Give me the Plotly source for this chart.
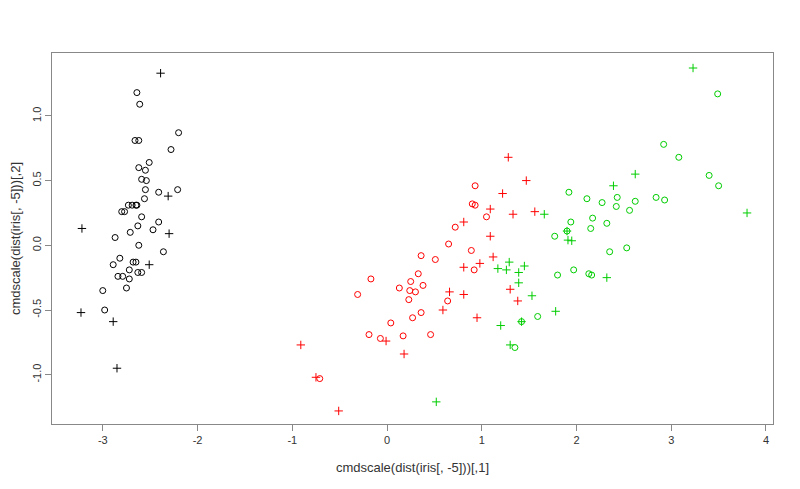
import plotly.graph_objects as go

# setosa (black): (x, y, symbol)
setosa = [(-2.39,1.33,"+"),(-2.64,1.18,"o"),(-2.61,1.09,"o"),(-2.20,0.87,"o"),(-2.66,0.81,"o"),(-2.62,0.81,"o"),
          (-2.28,0.74,"o"),(-2.51,0.64,"o"),(-2.62,0.60,"o"),(-2.55,0.58,"o"),(-2.59,0.51,"o"),(-2.54,0.50,"o"),
          (-2.55,0.43,"o"),(-2.41,0.41,"o"),(-2.31,0.38,"+"),(-2.21,0.43,"o"),(-2.56,0.36,"o"),
          (-2.73,0.31,"o"),(-2.69,0.31,"o"),(-2.65,0.31,"o"),(-2.64,0.31,"o"),(-2.80,0.26,"o"),(-2.77,0.26,"o"),
          (-2.59,0.22,"o"),(-3.22,0.13,"+"),(-2.41,0.18,"o"),(-2.63,0.15,"o"),(-2.47,0.12,"o"),(-2.30,0.09,"+"),
          (-2.71,0.10,"o"),(-2.87,0.06,"o"),(-2.62,0.00,"o"),(-2.36,-0.05,"o"),(-2.82,-0.10,"o"),(-2.89,-0.15,"o"),
          (-2.68,-0.13,"o"),(-2.65,-0.13,"o"),(-2.51,-0.15,"+"),(-2.72,-0.19,"o"),(-2.63,-0.21,"o"),(-2.59,-0.21,"o"),
          (-2.84,-0.24,"o"),(-2.79,-0.24,"o"),(-2.72,-0.26,"o"),(-2.75,-0.33,"o"),(-3.00,-0.35,"o"),(-2.98,-0.50,"o"),
          (-3.23,-0.52,"+"),(-2.89,-0.59,"+"),(-2.85,-0.95,"+")]

# versicolor (red)
versicolor = [(1.28,0.68,"+"),(0.93,0.46,"o"),(1.47,0.50,"+"),(1.22,0.40,"+"),(0.90,0.32,"o"),(0.93,0.31,"o"),
              (1.09,0.28,"+"),(1.05,0.22,"o"),(1.33,0.24,"+"),(1.56,0.26,"+"),(0.81,0.18,"+"),(0.72,0.14,"o"),
              (1.09,0.07,"+"),(0.65,0.01,"o"),(0.89,-0.04,"o"),(0.36,-0.08,"o"),(0.51,-0.11,"o"),(1.12,-0.09,"+"),
              (0.98,-0.14,"+"),(0.81,-0.17,"+"),(0.92,-0.19,"o"),(-0.17,-0.26,"o"),(0.33,-0.22,"o"),(0.25,-0.28,"o"),
              (0.38,-0.31,"o"),(0.13,-0.33,"o"),(0.24,-0.35,"o"),(0.30,-0.36,"o"),(-0.31,-0.38,"o"),(0.66,-0.36,"+"),
              (0.81,-0.38,"+"),(1.30,-0.34,"+"),(1.38,-0.43,"+"),(0.23,-0.42,"o"),(0.64,-0.43,"o"),(0.59,-0.50,"+"),
              (0.36,-0.52,"o"),(0.27,-0.56,"o"),(0.95,-0.56,"+"),(0.04,-0.60,"o"),(-0.19,-0.69,"o"),(-0.07,-0.72,"o"),
              (-0.01,-0.74,"+"),(0.17,-0.70,"o"),(0.46,-0.69,"o"),(0.18,-0.84,"+"),(-0.91,-0.77,"+"),(-0.75,-1.02,"+"),
              (-0.71,-1.03,"o"),(-0.51,-1.28,"+")]

# virginica (green)
virginica = [(3.23,1.37,"+"),(3.49,1.17,"o"),(2.92,0.78,"o"),(3.08,0.68,"o"),(3.40,0.54,"o"),(3.50,0.46,"o"),
             (2.62,0.55,"+"),(2.39,0.46,"+"),(3.80,0.25,"+"),(1.92,0.41,"o"),(2.11,0.36,"o"),(2.27,0.33,"o"),
             (2.43,0.37,"o"),(2.42,0.30,"o"),(2.62,0.34,"o"),(2.56,0.27,"o"),(2.84,0.37,"o"),(2.93,0.35,"o"),
             (1.66,0.24,"+"),(2.17,0.21,"o"),(1.94,0.18,"o"),(2.32,0.17,"o"),(2.15,0.13,"o"),(1.77,0.07,"o"),
             (1.90,0.11,"o"),(1.90,0.11,"+"),(1.91,0.04,"+"),(1.95,0.035,"+"),(2.35,-0.05,"o"),(2.53,-0.02,"o"),
             (1.29,-0.13,"+"),(1.45,-0.16,"+"),(1.17,-0.18,"+"),(1.26,-0.19,"+"),(1.39,-0.21,"+"),(1.80,-0.23,"o"),
             (1.97,-0.19,"o"),(2.13,-0.22,"o"),(2.16,-0.23,"o"),(2.32,-0.25,"+"),(1.39,-0.29,"+"),(1.53,-0.39,"+"),
             (1.78,-0.51,"+"),(1.59,-0.55,"o"),(1.42,-0.59,"o"),(1.42,-0.59,"+"),(1.20,-0.62,"+"),(1.30,-0.77,"+"),
             (1.35,-0.79,"o"),(0.52,-1.21,"+")]

x_ticks = [-3, -2, -1, 0, 1, 2, 3, 4]
y_ticks = [-1.0, -0.5, 0.0, 0.5, 1.0]

fig = go.Figure()
for pts, col in [(setosa, "black"), (versicolor, "#FF0000"), (virginica, "#00CD00")]:
    for s, sym, size in [("o", "circle-open", 6), ("+", "cross-thin-open", 6)]:
        sel = [p for p in pts if p[2] == s]
        fig.add_trace(go.Scatter(x=[p[0] for p in sel], y=[p[1] for p in sel], mode="markers",
                                 showlegend=False,
                                 marker=dict(symbol=sym, size=size, color=col, line=dict(width=1, color=col))))

axis_common = dict(ticks="outside", ticklen=6, tickcolor="#888888", showgrid=False, zeroline=False,
                   showline=True, linecolor="#888888", mirror=True, tickfont=dict(color="#333333"),
                   automargin=False)
fig.update_layout(
    width=800, height=489, paper_bgcolor="white", plot_bgcolor="white",
    margin=dict(l=44, r=35, t=45, b=73),
    font=dict(family="Liberation Sans, Arial", size=11, color="#333333"),
    xaxis=dict(range=[-3.536, 4.074], tickvals=x_ticks, ticktext=[str(v) for v in x_ticks],
               title=dict(text="cmdscale(dist(iris[, -5]))[,1]", standoff=17), **axis_common),
    yaxis=dict(range=[-1.381, 1.486], tickvals=y_ticks, ticktext=["-1.0", "-0.5", "0.0", "0.5", "1.0"],
               tickangle=-90, title=dict(text="cmdscale(dist(iris[, -5]))[,2]", standoff=12), **axis_common),
)
fig.write_html("out.html")
